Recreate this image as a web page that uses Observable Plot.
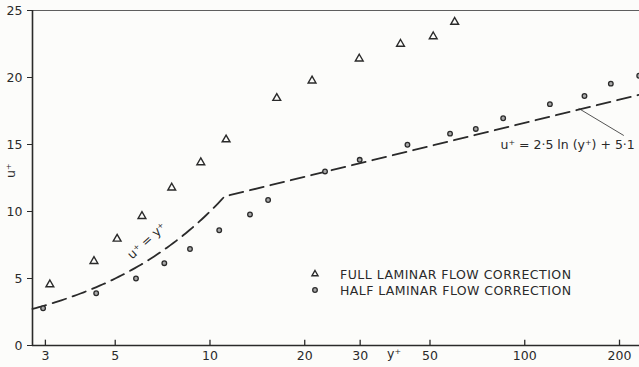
<!DOCTYPE html>
<html><head><meta charset="utf-8">
<script src="https://cdn.jsdelivr.net/npm/d3@7"></script>
<script src="https://cdn.jsdelivr.net/npm/@observablehq/plot@0.6"></script>
<style>
html,body{margin:0;padding:0;background:#fcfcfa;}
#wrap{position:relative;width:639px;height:367px;overflow:hidden;}
#legend{position:absolute;left:0;top:0;pointer-events:none;}
</style></head><body><div id="wrap"></div>
<script>
// Data
const fullYplus = [3.10, 4.28, 5.07, 6.08, 7.56, 9.35, 11.25, 16.3, 21.1, 29.8, 40.3, 51.2, 59.9];
const fullUplus = [4.55, 6.29, 7.96, 9.65, 11.77, 13.66, 15.37, 18.46, 19.76, 21.40, 22.50, 23.06, 24.14];
const halfYplus = [2.95, 4.35, 5.82, 7.16, 8.64, 10.7, 13.4, 15.3, 23.2, 29.9, 42.4, 57.9, 69.9, 85.4, 120.2, 154.8, 187.7, 231];
const halfUplus = [2.78, 3.90, 5.00, 6.14, 7.20, 8.60, 9.78, 10.86, 12.99, 13.86, 14.98, 15.81, 16.16, 16.96, 18.01, 18.62, 19.54, 20.13];
const xTicks = [3, 5, 10, 20, 30, 50, 100, 200];
const yTicks = [0, 5, 10, 15, 20, 25];
const seriesNames = ["FULL LAMINAR FLOW CORRECTION", "HALF LAMINAR FLOW CORRECTION"];
const lawLabel = "u\u207A = 2\u00B75 ln (y\u207A) + 5\u00B71";
const linearLabel = "u\u207A = y\u207A";
const xLabel = "y\u207A", yLabel = "u\u207A";
// printed law constants: u+ = 2.5 ln(y+) + 5.1 ; viscous sublayer u+ = y+
const lawA = 2.5, lawB = 5.1;
const xDomain = [2.73, 231.5];

const ink = "#2a2a2a";
const fullRows = fullYplus.map((x, i) => ({x, y: fullUplus[i]}));
const halfRows = halfYplus.map((x, i) => ({x, y: halfUplus[i]}));

// intersection of u=y and log law
let yc = 11;
for (let k = 0; k < 50; k++) yc = lawA * Math.log(yc) + lawB;
const lawPts = [];
for (let i = 0; i <= 60; i++) { const x = xDomain[0] * Math.pow(yc / xDomain[0], i / 60); lawPts.push({x, y: x}); }
lawPts.push({x: xDomain[1], y: lawA * Math.log(xDomain[1]) + lawB});

const chart = Plot.plot({
  width: 639, height: 367,
  marginLeft: 32, marginRight: 0, marginTop: 10, marginBottom: 22,
  style: {background: "transparent", fontFamily: "'DejaVu Sans', sans-serif", fontSize: "12.5px", color: ink, overflow: "visible"},
  x: {type: "log", domain: xDomain},
  y: {domain: [0, 25]},
  marks: [
    Plot.ruleY([25], {stroke: ink, strokeWidth: 1.2, strokeOpacity: 0.75}),
    Plot.ruleY([0], {stroke: ink, strokeWidth: 1.6}),
    Plot.ruleX([xDomain[0]], {stroke: ink, strokeWidth: 1.6}),
    Plot.ruleX(xTicks, {x: d => d, y1: 0, y2: 0.4, stroke: ink, strokeWidth: 1.3}),
    Plot.axisX({ticks: xTicks, tickSize: 0, tickPadding: 6, label: null, tickFormat: d => String(d), fill: ink}),
    Plot.axisY({ticks: yTicks, tickSize: 5, tickPadding: 5, label: null, stroke: ink, fill: ink}),
    Plot.line(lawPts, {x: "x", y: "y", stroke: ink, strokeWidth: 1.8, strokeDasharray: "14,7"}),
    Plot.dot(fullRows, {x: "x", y: "y", symbol: "triangle", r: 2.9, stroke: ink, strokeWidth: 1.4, fill: "none"}),
    Plot.dot(halfRows, {x: "x", y: "y", r: 2.3, stroke: ink, strokeWidth: 1.3, fill: "#a8a8a8"}),
    Plot.text([linearLabel], {x: 6.3, y: 7.8, text: d => d, rotate: -42, fontSize: 12.5, fill: ink}),
    Plot.link([{x1: 148.4, y1: 17.69, x2: 206.4, y2: 15.67}], {x1: "x1", y1: "y1", x2: "x2", y2: "y2", stroke: ink, strokeWidth: 1, strokeOpacity: 0.8}),
    Plot.text([lawLabel], {x: 136.9, y: 14.93, text: d => d, fontSize: 12.5, fill: ink}),
    Plot.text([xLabel], {frameAnchor: "bottom", dx: 58, dy: 12, text: d => d, fontSize: 12.5, fill: ink}),
    Plot.text([yLabel], {frameAnchor: "left", dx: -22, rotate: -90, text: d => d, fontSize: 12.5, fill: ink})
  ]
});
const wrap = document.getElementById("wrap");
wrap.appendChild(chart);

// legend overlay
const NS = "http://www.w3.org/2000/svg";
const lg = document.createElementNS(NS, "svg");
lg.setAttribute("id", "legend");
lg.setAttribute("width", 639); lg.setAttribute("height", 367);
const rows = [
  {sym: d3.symbol(d3.symbolTriangle2, 2.9 * 2.9 * Math.PI)(), fill: "none", cy: 274},
  {sym: null, fill: "#a8a8a8", cy: 290}
];
rows.forEach((r, i) => {
  if (r.sym) {
    const p = document.createElementNS(NS, "path");
    p.setAttribute("d", r.sym); p.setAttribute("transform", `translate(315,${r.cy})`);
    p.setAttribute("fill", "none"); p.setAttribute("stroke", ink); p.setAttribute("stroke-width", 1.4);
    lg.appendChild(p);
  } else {
    const c = document.createElementNS(NS, "circle");
    c.setAttribute("cx", 315); c.setAttribute("cy", r.cy); c.setAttribute("r", 2.3);
    c.setAttribute("fill", r.fill); c.setAttribute("stroke", ink); c.setAttribute("stroke-width", 1.3);
    lg.appendChild(c);
  }
  const t = document.createElementNS(NS, "text");
  t.setAttribute("x", 340); t.setAttribute("y", r.cy + 5);
  t.setAttribute("font-family", "'DejaVu Sans', sans-serif"); t.setAttribute("font-size", 12.5);
  t.setAttribute("fill", ink);
  t.setAttribute("textLength", 231); t.setAttribute("lengthAdjust", "spacing");
  t.textContent = seriesNames[i];
  lg.appendChild(t);
});
wrap.appendChild(lg);
</script></body></html>
